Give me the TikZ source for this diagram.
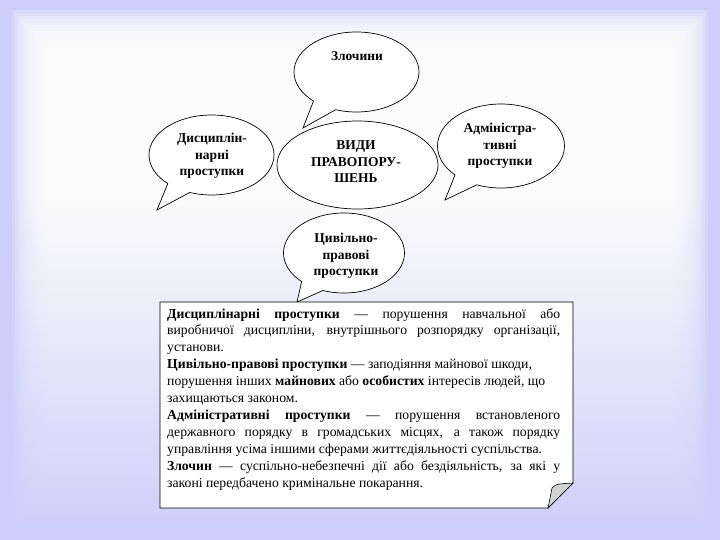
\documentclass[tikz,border=0pt]{standalone}
\usepackage{fontspec}
\setmainfont{Liberation Serif}
\usetikzlibrary{shapes.geometric,shapes.callouts,fadings}
\definecolor{lav}{RGB}{206,206,250}
\begin{document}
\begin{tikzpicture}[x=1pt,y=-1pt,
  bubble/.style={ellipse callout, draw=black, fill=white, line width=0.7pt, inner sep=0pt, callout pointer arc=24},
  plainell/.style={ellipse, draw=black, fill=white, line width=0.7pt, inner sep=0pt},
  btext/.style={align=center, font=\bfseries\fontsize{13.5}{16.5}\selectfont, inner sep=0pt},
  boxtext/.style={anchor=north west, text width=393pt, inner sep=0pt, align=justify,
    font=\fontsize{13.7}{16.9}\selectfont}
]
\useasboundingbox (0,0) rectangle (720,540);
% background
\fill[lav] (0,0) rectangle (720,540);
\foreach \i in {0,...,13} {
  \fill[white, fill opacity=0.2] ({12+3*\i},{10+3*\i}) rectangle ({708-3*\i},{530-3*\i});
}
\fill[lav, path fading=north] (0,200) rectangle (720,540);

% central ellipse
\node[plainell, minimum width=161pt, minimum height=88pt] (vyd) at (357.5,165) {};
\node[btext] (vydt) at (356,162) {ВИДИ\\ПРАВОПОРУ-\\ШЕНЬ};

% callouts
\node[bubble, minimum width=125pt, minimum height=80pt, callout absolute pointer={(303,128)}] (zl) at (356.5,72) {};
\node[btext] (zlt) at (357,56) {Злочини};

\node[bubble, minimum width=125pt, minimum height=80pt, callout absolute pointer={(157,210)}] (dys) at (211.5,155) {};
\node[btext] (dyst) at (212,156) {Дисциплін-\\нарні\\проступки};

\node[bubble, minimum width=127pt, minimum height=84pt, callout absolute pointer={(445,200)}] (adm) at (501,146) {};
\node[btext] (admt) at (500,146) {Адміністра-\\тивні\\проступки};

\node[bubble, minimum width=121pt, minimum height=80pt, callout absolute pointer={(297,302)}] (cyv) at (344,253) {};
\node[btext] (cyvt) at (346,256) {Цивільно-\\правові\\проступки};

% text box with folded corner
\draw[fill=white, line width=0.8pt] (160,302) -- (573,302) -- (573,483) -- (548,508) -- (160,508) -- cycle;
\filldraw[fill=gray!35, line width=0.6pt] (548,508) -- (552,488) .. controls (556,484) .. (573,483) -- cycle;

\node[boxtext] (txt) at (167,308) {\hyphenpenalty=10000 \tolerance=10000 \emergencystretch=20pt
\textbf{Дисциплінарні проступки} — порушення навчальної або\linebreak
виробничої дисципліни, внутрішнього розпорядку організації,\linebreak
установи.\par
\textbf{Цивільно-правові проступки} — заподіяння майнової шкоди,\newline
порушення інших \textbf{майнових} або \textbf{особистих} інтересів людей, що\newline
захищаються законом.\par
\textbf{Адміністративні проступки} — порушення встановленого\linebreak
державного порядку в громадських місцях, а також порядку\linebreak
управління усіма іншими сферами життєдіяльності суспільства.\par
\textbf{Злочин} — суспільно-небезпечні дії або бездіяльність, за які у\linebreak
законі передбачено кримінальне покарання.};
\end{tikzpicture}
\end{document}
